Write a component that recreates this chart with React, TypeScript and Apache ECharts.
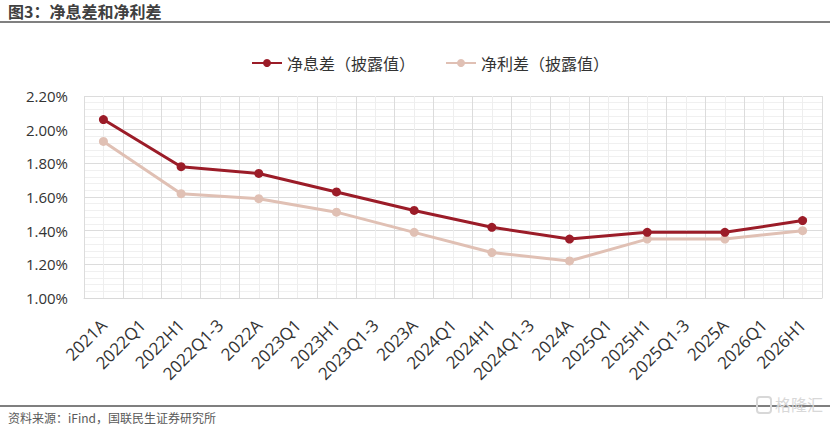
import React, { useEffect, useRef } from "react";
import * as echarts from "echarts";

const categories = [
  "2021A", "2022Q1", "2022H1", "2022Q1-3", "2022A", "2023Q1", "2023H1", "2023Q1-3",
  "2023A", "2024Q1", "2024H1", "2024Q1-3", "2024A", "2025Q1", "2025H1", "2025Q1-3",
  "2025A", "2026Q1", "2026H1",
];
const reportPeriods = ["2021A", "2022H1", "2022A", "2023H1", "2023A", "2024H1", "2024A", "2025H1", "2025A", "2026H1"];
const netInterestMargin = [2.06, 1.78, 1.74, 1.63, 1.52, 1.42, 1.35, 1.39, 1.39, 1.46];
const netInterestSpread = [1.93, 1.62, 1.59, 1.51, 1.39, 1.27, 1.22, 1.35, 1.35, 1.40];
const seriesNames = ["净息差（披露值）", "净利差（披露值）"];
const titleText = "图3：净息差和净利差";
const sourceText = "资料来源：iFind，国联民生证券研究所";

const CJK = '"Noto Sans CJK SC", "Noto Sans", sans-serif';
const LATIN = '"Open Sans", "Noto Sans", sans-serif';

export default function App() {
  const ref = useRef<HTMLDivElement>(null);
  useEffect(() => {
    document.body.style.margin = "0";
    const chart = echarts.init(ref.current!, null, { renderer: "svg" });
    const toPairs = (vals: number[]) => reportPeriods.map((p, i) => [p, vals[i]]);
    chart.setOption({
      animation: false,
      backgroundColor: "#ffffff",
      textStyle: { fontFamily: CJK },
      grid: { left: 84, right: 8, top: 96, bottom: 129, containLabel: false },
      legend: {
        top: 50,
        left: 246,
        itemWidth: 30,
        itemHeight: 10,
        itemGap: 30,
        textStyle: { fontSize: 16, color: "#333333", fontFamily: CJK },
        data: seriesNames,
      },
      xAxis: [
        {
          type: "category",
          data: categories,
          boundaryGap: true,
          axisLine: { show: true, lineStyle: { color: "#d9d9d9", width: 1 } },
          axisTick: { show: false },
          splitLine: { show: false },
          axisLabel: {
            interval: 0,
            rotate: 45,
            fontSize: 17,
            color: "#333333",
            margin: 24,
            fontFamily: LATIN,
          },
        },
        {
          type: "value",
          min: 0,
          max: 19,
          interval: 1,
          show: true,
          position: "bottom",
          axisLine: { show: false },
          axisTick: { show: false },
          axisLabel: { show: false },
          splitLine: { show: true, lineStyle: { color: "#dcdcdc", width: 1 } },
          minorTick: { show: false, splitNumber: 2 },
          minorSplitLine: { show: true, lineStyle: { color: "#eeeeee", width: 1 } },
        },
      ],
      yAxis: {
        type: "value",
        min: 1.0,
        max: 2.2,
        interval: 0.2,
        axisLine: { show: false },
        axisTick: { show: false },
        axisLabel: {
          fontSize: 15,
          color: "#333333",
          margin: 16,
          fontFamily: LATIN,
          formatter: (v: number) => v.toFixed(2) + "%",
        },
        splitLine: { show: true, lineStyle: { color: "#dcdcdc", width: 1 } },
        minorTick: { show: false, splitNumber: 5 },
        minorSplitLine: { show: true, lineStyle: { color: "#f0f0f0", width: 1 } },
      },
      series: [
        {
          name: seriesNames[0],
          type: "line",
          xAxisIndex: 0,
          data: toPairs(netInterestMargin),
          symbol: "circle",
          symbolSize: 9,
          lineStyle: { color: "#9b1c28", width: 3 },
          itemStyle: { color: "#9b1c28" },
          z: 3,
        },
        {
          name: seriesNames[1],
          type: "line",
          xAxisIndex: 0,
          data: toPairs(netInterestSpread),
          symbol: "circle",
          symbolSize: 9,
          lineStyle: { color: "#e0c0b4", width: 3 },
          itemStyle: { color: "#e0c0b4" },
          z: 2,
        },
      ],
      graphic: [
        {
          type: "text",
          left: 8,
          top: 3,
          style: { text: titleText, font: `bold 16px ${CJK}`, fill: "#404040" },
        },
        {
          type: "line",
          shape: { x1: 0, y1: 22, x2: 830, y2: 22 },
          style: { stroke: "#808080", lineWidth: 2 },
        },
        {
          type: "line",
          shape: { x1: 0, y1: 406, x2: 830, y2: 406 },
          style: { stroke: "#555555", lineWidth: 1.5 },
        },
        {
          type: "text",
          left: 8,
          top: 411,
          style: { text: sourceText, font: `12px ${CJK}`, fill: "#595959" },
        },
        {
          type: "rect",
          shape: { x: 757, y: 397, width: 14, height: 16, r: 3 },
          style: { fill: "none", stroke: "#d8d8d8", lineWidth: 2 },
        },
        {
          type: "text",
          left: 775,
          top: 396,
          style: { text: "格隆汇", font: `16px ${CJK}`, fill: "#d8d8d8" },
        },
      ],
    });
    return () => chart.dispose();
  }, []);
  return <div ref={ref} style={{ width: 830, height: 427 }} />;
}
